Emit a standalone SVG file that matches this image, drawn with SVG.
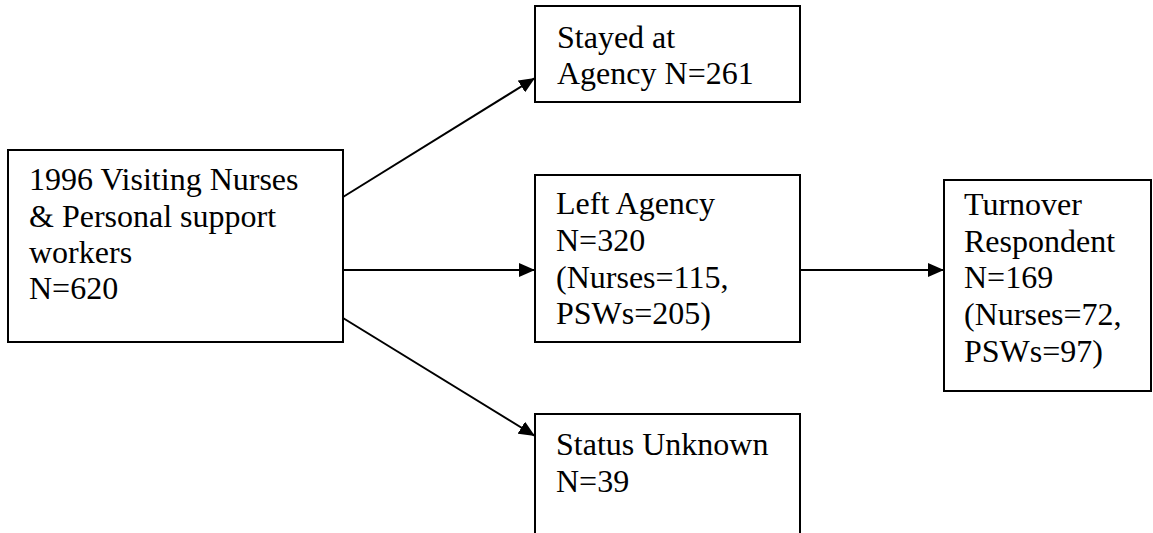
<svg xmlns="http://www.w3.org/2000/svg" width="1153" height="533" viewBox="0 0 1153 533">
<style>
.box{fill:#fff;stroke:#000;stroke-width:2}
.t{font-family:"Liberation Serif","Times New Roman",serif;font-size:32px;fill:#000}
.c{stroke:#000;stroke-width:2;fill:none}
</style>
<defs>
<marker id="ah" viewBox="0 0 10 10" refX="10" refY="5" markerWidth="8" markerHeight="7" markerUnits="strokeWidth" orient="auto" preserveAspectRatio="none">
<path d="M0,0 L10,5 L0,10 z" fill="#000"/>
</marker>
</defs>
<rect width="1153" height="533" fill="#fff"/>
<g id="connectors">
<line class="c" x1="343" y1="197" x2="535" y2="78" marker-end="url(#ah)"/>
<line class="c" x1="343" y1="270" x2="535" y2="270" marker-end="url(#ah)"/>
<line class="c" x1="343" y1="318" x2="535" y2="436" marker-end="url(#ah)"/>
<line class="c" x1="800" y1="270" x2="944" y2="270" marker-end="url(#ah)"/>
</g>
<g id="node-main">
<rect class="box" x="8" y="150" width="335" height="192"/>
<text class="t" x="29" y="190">1996 Visiting Nurses</text>
<text class="t" x="29" y="227">&amp; Personal support</text>
<text class="t" x="29" y="263">workers</text>
<text class="t" x="29" y="299">N=620</text>
</g>
<g id="node-stayed">
<rect class="box" x="535" y="6" width="265" height="96"/>
<text class="t" x="557" y="48">Stayed at</text>
<text class="t" x="557" y="84">Agency N=261</text>
</g>
<g id="node-left">
<rect class="box" x="535" y="175" width="265" height="167"/>
<text class="t" x="556" y="214">Left Agency</text>
<text class="t" x="556" y="251">N=320</text>
<text class="t" x="556" y="288">(Nurses=115,</text>
<text class="t" x="556" y="324">PSWs=205)</text>
</g>
<g id="node-turnover">
<rect class="box" x="944" y="180" width="207" height="211"/>
<text class="t" x="964" y="215">Turnover</text>
<text class="t" x="964" y="252">Respondent</text>
<text class="t" x="964" y="288">N=169</text>
<text class="t" x="964" y="325">(Nurses=72,</text>
<text class="t" x="964" y="362">PSWs=97)</text>
</g>
<g id="node-status">
<rect class="box" x="535" y="414" width="265" height="130"/>
<text class="t" x="556" y="455">Status Unknown</text>
<text class="t" x="556" y="492">N=39</text>
</g>
</svg>
